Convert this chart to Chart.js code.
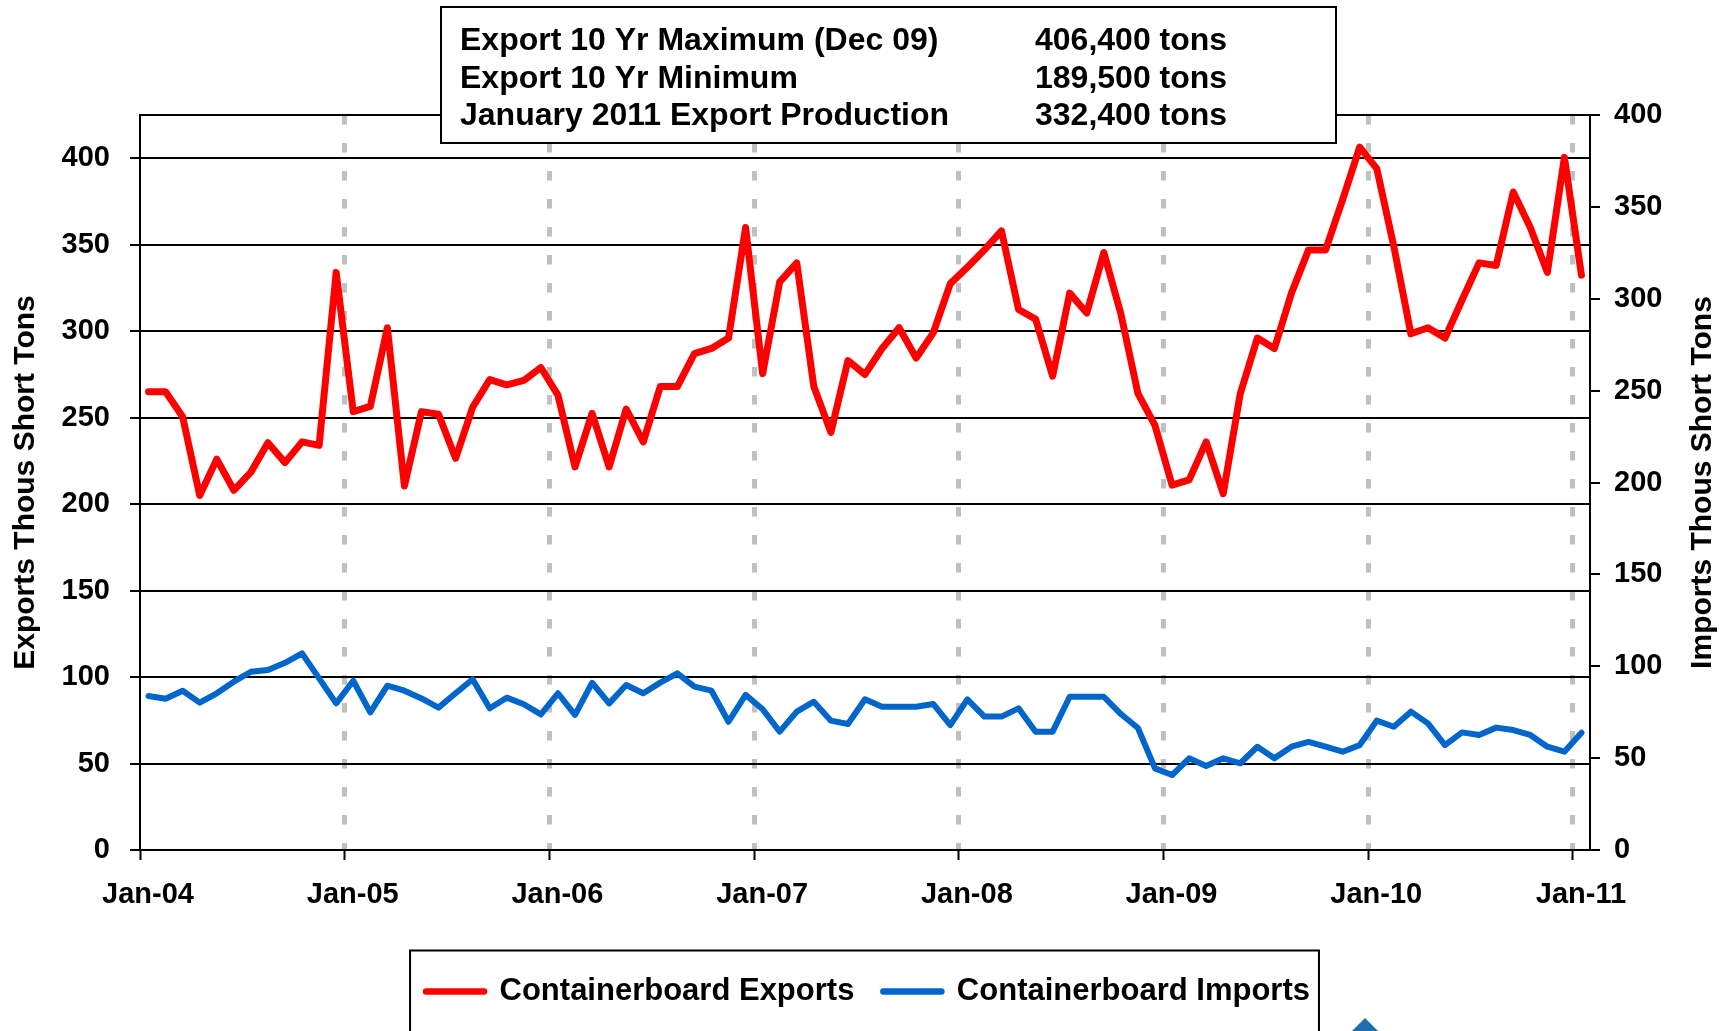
<!DOCTYPE html>
<html>
<head>
<meta charset="utf-8">
<title>Containerboard Exports and Imports</title>
<script src="https://cdn.jsdelivr.net/npm/chart.js@4.4.1/dist/chart.umd.min.js"></script>
<style>
  html, body { margin: 0; padding: 0; background: #fff; }
  canvas { display: block; }
</style>
</head>
<body>
<canvas id="chart" width="1728" height="1031"></canvas>
<script>
// one value per month, Jan-04 .. Jan-11 (thousand short tons)
const yearLabels = ["Jan-04", "Jan-05", "Jan-06", "Jan-07", "Jan-08", "Jan-09", "Jan-10", "Jan-11"];

const exportsK = [
  265, 265, 250.5, 205, 226, 208, 218.5, 235.5, 224, 236, 234, 334,
  253.5, 256.5, 302, 210.5, 253.5, 252, 226.5, 256, 272, 269, 271.5, 279,
  263, 221.5, 252.5, 221.5, 255, 236, 268, 268, 287, 290, 296, 360,
  275.5, 328.5, 339.5, 268, 241.5, 283, 275, 290, 302, 284.5, 299, 327.5,
  337, 347, 358, 312.5, 307, 274, 322, 310.5, 345.5, 310, 264, 245.5,
  211, 214, 236, 206, 264, 296, 290, 322, 347, 347, 376, 406.4,
  394, 349, 298.5, 302, 296, 318, 339.5, 338, 380.5, 360, 334, 400.5,
  332.4
];

const importsK = [
  83.8, 82.3, 86.7, 80.2, 85.3, 91.6, 97.0, 98.0, 101.9, 107.0, 93.4, 79.8,
  92.1, 74.9, 89.4, 86.7, 82.5, 77.5, 85.3, 92.9, 77.1, 82.9, 79.3, 73.8,
  85.3, 73.5, 91.0, 79.8, 89.8, 85.3, 91.1, 96.1, 88.9, 86.7, 69.8, 84.4,
  76.6, 64.4, 75.3, 80.7, 70.4, 68.6, 82.0, 78.0, 78.0, 78.0, 79.5, 68.0,
  82.0, 72.6, 72.6, 77.1, 64.4, 64.4, 83.4, 83.4, 83.4, 74.0, 66.4, 44.4,
  40.8, 49.9, 45.7, 49.9, 47.2, 56.2, 49.9, 56.2, 58.9, 56.2, 53.5, 57.1,
  70.4, 67.1, 75.3, 68.9, 57.1, 64.0, 62.6, 66.6, 65.3, 62.6, 56.2, 53.5,
  63.8
];

const statLabels = ["Export 10 Yr Maximum (Dec 09)", "Export 10 Yr Minimum", "January 2011 Export Production"];
const statValues = ["406,400 tons", "189,500 tons", "332,400 tons"];

const FONT = "Arial, 'Liberation Sans', Helvetica, sans-serif";
Chart.defaults.font.family = FONT;
Chart.defaults.color = "#000";

// top frame, right title (bottom-to-top), stats box, legend frame
const chartDecor = {
  id: "chartDecor",
  beforeDatasetsDraw(chart) {
    const { ctx, chartArea: a } = chart;
    ctx.save();
    ctx.strokeStyle = "#000";
    ctx.lineWidth = 2;
    ctx.beginPath();
    ctx.moveTo(a.left, a.top);
    ctx.lineTo(a.right, a.top);
    ctx.stroke();
    ctx.restore();
  },
  afterDraw(chart) {
    const { ctx, chartArea: a, scales } = chart;

    ctx.save();
    ctx.fillStyle = "#000";
    ctx.font = `bold 30px ${FONT}`;
    ctx.textAlign = "center";
    ctx.textBaseline = "middle";
    ctx.translate(scales.y2.right - 25, (a.top + a.bottom) / 2);
    ctx.rotate(-Math.PI / 2);
    ctx.fillText("Imports Thous Short Tons", 0, 0);
    ctx.restore();

    ctx.save();
    ctx.fillStyle = "#fff";
    ctx.strokeStyle = "#000";
    ctx.lineWidth = 2;
    ctx.fillRect(441, 7, 895, 136);
    ctx.strokeRect(441, 7, 895, 136);
    ctx.fillStyle = "#000";
    ctx.font = `bold 32px ${FONT}`;
    ctx.textAlign = "left";
    ctx.textBaseline = "alphabetic";
    statLabels.forEach((t, i) => {
      const y = 50 + i * 37.5;
      ctx.fillText(t, 460, y);
      ctx.fillText(statValues[i], 1035, y);
    });
    ctx.restore();

    const hb = chart.legend.legendHitBoxes || [];
    if (hb.length) {
      const first = hb[0], last = hb[hb.length - 1];
      const cy = first.top + first.height / 2;
      const x0 = first.left - 16;
      const x1 = last.left + last.width + 9;
      ctx.save();
      ctx.strokeStyle = "#000";
      ctx.lineWidth = 2;
      ctx.strokeRect(x0, cy - 41, x1 - x0, 100);
      ctx.restore();
    }

    // corner of a logo peeking in at the bottom
    ctx.save();
    ctx.fillStyle = "#1f6eb0";
    ctx.beginPath();
    ctx.moveTo(1352, 1031);
    ctx.lineTo(1365, 1018);
    ctx.lineTo(1378, 1031);
    ctx.closePath();
    ctx.fill();
    ctx.restore();
  }
};

const ctx = document.getElementById("chart").getContext("2d");
new Chart(ctx, {
  type: "line",
  data: {
    datasets: [
      {
        label: "Containerboard Exports",
        data: exportsK.map((v, i) => ({ x: i + 0.5, y: v })),
        yAxisID: "y",
        borderColor: "#ff0000",
        backgroundColor: "#ff0000",
        borderWidth: 7,
        borderCapStyle: "round",
        borderJoinStyle: "round",
        pointRadius: 0,
        tension: 0
      },
      {
        label: "Containerboard Imports",
        data: importsK.map((v, i) => ({ x: i + 0.5, y: v })),
        yAxisID: "y2",
        borderColor: "#0066cc",
        backgroundColor: "#0066cc",
        borderWidth: 6,
        borderCapStyle: "round",
        borderJoinStyle: "round",
        pointRadius: 0,
        tension: 0
      }
    ]
  },
  options: {
    responsive: false,
    animation: false,
    devicePixelRatio: 1,
    layout: { padding: { top: 115, left: 8, right: 0, bottom: 14 } },
    plugins: {
      tooltip: { enabled: false },
      legend: {
        position: "bottom",
        labels: {
          usePointStyle: true,
          pointStyle: "line",
          pointStyleWidth: 58,
          padding: 29,
          color: "#000",
          font: { size: 31, weight: "bold" },
          generateLabels(chart) {
            const items = Chart.defaults.plugins.legend.labels.generateLabels(chart);
            items.forEach(it => {
              const ds = chart.data.datasets[it.datasetIndex];
              it.pointStyle = "line";
              it.lineWidth = 6.5;
              it.lineCap = "round";
              it.strokeStyle = ds.borderColor;
              it.fillStyle = ds.borderColor;
            });
            return items;
          }
        }
      }
    },
    scales: {
      x: {
        type: "linear",
        position: "bottom",
        min: 0,
        max: exportsK.length,
        afterBuildTicks: scale => {
          scale.ticks = yearLabels.map((_, i) => ({ value: i * 12 }));
        },
        afterFit: scale => { scale.height = 97; },
        ticks: {
          autoSkip: false,
          maxRotation: 0,
          padding: 18,
          labelOffset: 8,
          font: { size: 29, weight: "bold" },
          callback: (value, index) => yearLabels[index]
        },
        grid: {
          color: c => (c.index === 0 ? "transparent" : "#c0c0c0"),
          lineWidth: 5,
          tickLength: 10,
          tickColor: "#000",
          tickWidth: 2
        },
        border: { display: true, color: "#000", width: 2, dash: [9.5, 18.5] }
      },
      y: {
        position: "left",
        min: 0,
        max: 425,
        afterFit: scale => { scale.width = 132; },
        ticks: {
          stepSize: 50,
          includeBounds: false,
          padding: 20,
          font: { size: 29, weight: "bold" }
        },
        grid: { color: "#000", lineWidth: 2, tickLength: 10 },
        border: { display: true, color: "#000", width: 2 },
        title: {
          display: true,
          text: "Exports Thous Short Tons",
          padding: { top: 0, bottom: 0 },
          font: { size: 30, weight: "bold" }
        }
      },
      y2: {
        position: "right",
        min: 0,
        max: 400,
        afterFit: scale => { scale.width = 138; },
        ticks: {
          stepSize: 50,
          padding: 14,
          font: { size: 29, weight: "bold" }
        },
        grid: { drawOnChartArea: false, color: "#000", lineWidth: 2, tickLength: 10 },
        border: { display: true, color: "#000", width: 2 }
      }
    }
  },
  plugins: [chartDecor]
});
</script>
</body>
</html>
